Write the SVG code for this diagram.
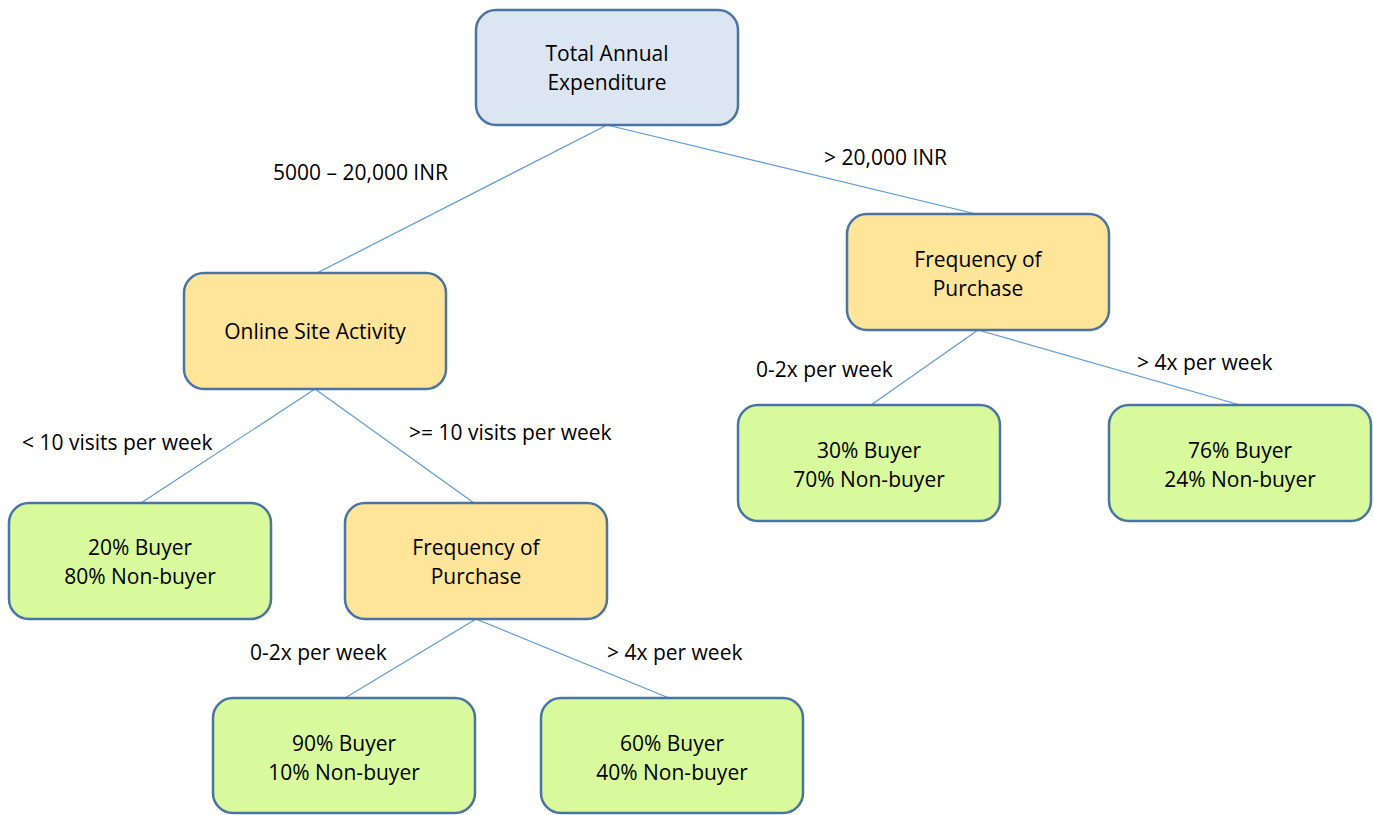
<svg xmlns="http://www.w3.org/2000/svg" width="1374" height="815" viewBox="0 0 1374 815">
  <style>
    .box { stroke: #4a74a3; stroke-width: 2.5; }
    .root { fill: #dce6f2; }
    .split { fill: #fee59a; }
    .leaf { fill: #d8f99c; }
    .edge { stroke: #5b9bd5; stroke-width: 1.2; fill: none; }
    text { font-family: "Open Sans", "Liberation Sans", sans-serif; font-size: 21px; fill: #000; }
    .c { text-anchor: middle; }
  </style>
  <rect width="1374" height="815" fill="#ffffff"/>

  <!-- connectors -->
  <g id="connectors">
    <line class="edge" x1="607" y1="125" x2="317" y2="273"/>
    <line class="edge" x1="607" y1="125" x2="976" y2="214"/>
    <line class="edge" x1="315" y1="389" x2="141" y2="503"/>
    <line class="edge" x1="315" y1="389" x2="474" y2="503"/>
    <line class="edge" x1="476" y1="619" x2="345" y2="698"/>
    <line class="edge" x1="476" y1="619" x2="669" y2="698"/>
    <line class="edge" x1="978" y1="330" x2="871" y2="405"/>
    <line class="edge" x1="978" y1="330" x2="1240" y2="405"/>
    <text x="273" y="180">5000 – 20,000 INR</text>
    <text x="824" y="165">&gt; 20,000 INR</text>
    <text x="22" y="450">&lt; 10 visits per week</text>
    <text x="409" y="440">&gt;= 10 visits per week</text>
    <text x="250" y="660">0-2x per week</text>
    <text x="607" y="660">&gt; 4x per week</text>
    <text x="756" y="377">0-2x per week</text>
    <text x="1137" y="370">&gt; 4x per week</text>
  </g>

  <g id="total-annual-expenditure">
    <rect class="box root" x="476" y="10" width="262" height="115" rx="20"/>
    <text class="c" x="607" y="61">Total Annual</text>
    <text class="c" x="607" y="90">Expenditure</text>
  </g>

  <g id="online-site-activity">
    <rect class="box split" x="184" y="273" width="262" height="116" rx="20"/>
    <text class="c" x="315" y="339">Online Site Activity</text>
  </g>

  <g id="frequency-left">
    <rect class="box split" x="345" y="503" width="262" height="116" rx="20"/>
    <text class="c" x="476" y="555">Frequency of</text>
    <text class="c" x="476" y="584">Purchase</text>
  </g>

  <g id="frequency-right">
    <rect class="box split" x="847" y="214" width="262" height="116" rx="20"/>
    <text class="c" x="978" y="267">Frequency of</text>
    <text class="c" x="978" y="296">Purchase</text>
  </g>

  <g id="leaf-20">
    <rect class="box leaf" x="9" y="503" width="262" height="116" rx="20"/>
    <text class="c" x="140" y="555">20% Buyer</text>
    <text class="c" x="140" y="584">80% Non-buyer</text>
  </g>

  <g id="leaf-90">
    <rect class="box leaf" x="213" y="698" width="262" height="115" rx="20"/>
    <text class="c" x="344" y="751">90% Buyer</text>
    <text class="c" x="344" y="780">10% Non-buyer</text>
  </g>

  <g id="leaf-60">
    <rect class="box leaf" x="541" y="698" width="262" height="115" rx="20"/>
    <text class="c" x="672" y="751">60% Buyer</text>
    <text class="c" x="672" y="780">40% Non-buyer</text>
  </g>

  <g id="leaf-30">
    <rect class="box leaf" x="738" y="405" width="262" height="116" rx="20"/>
    <text class="c" x="869" y="458">30% Buyer</text>
    <text class="c" x="869" y="487">70% Non-buyer</text>
  </g>

  <g id="leaf-76">
    <rect class="box leaf" x="1109" y="405" width="262" height="116" rx="20"/>
    <text class="c" x="1240" y="458">76% Buyer</text>
    <text class="c" x="1240" y="487">24% Non-buyer</text>
  </g>
</svg>
